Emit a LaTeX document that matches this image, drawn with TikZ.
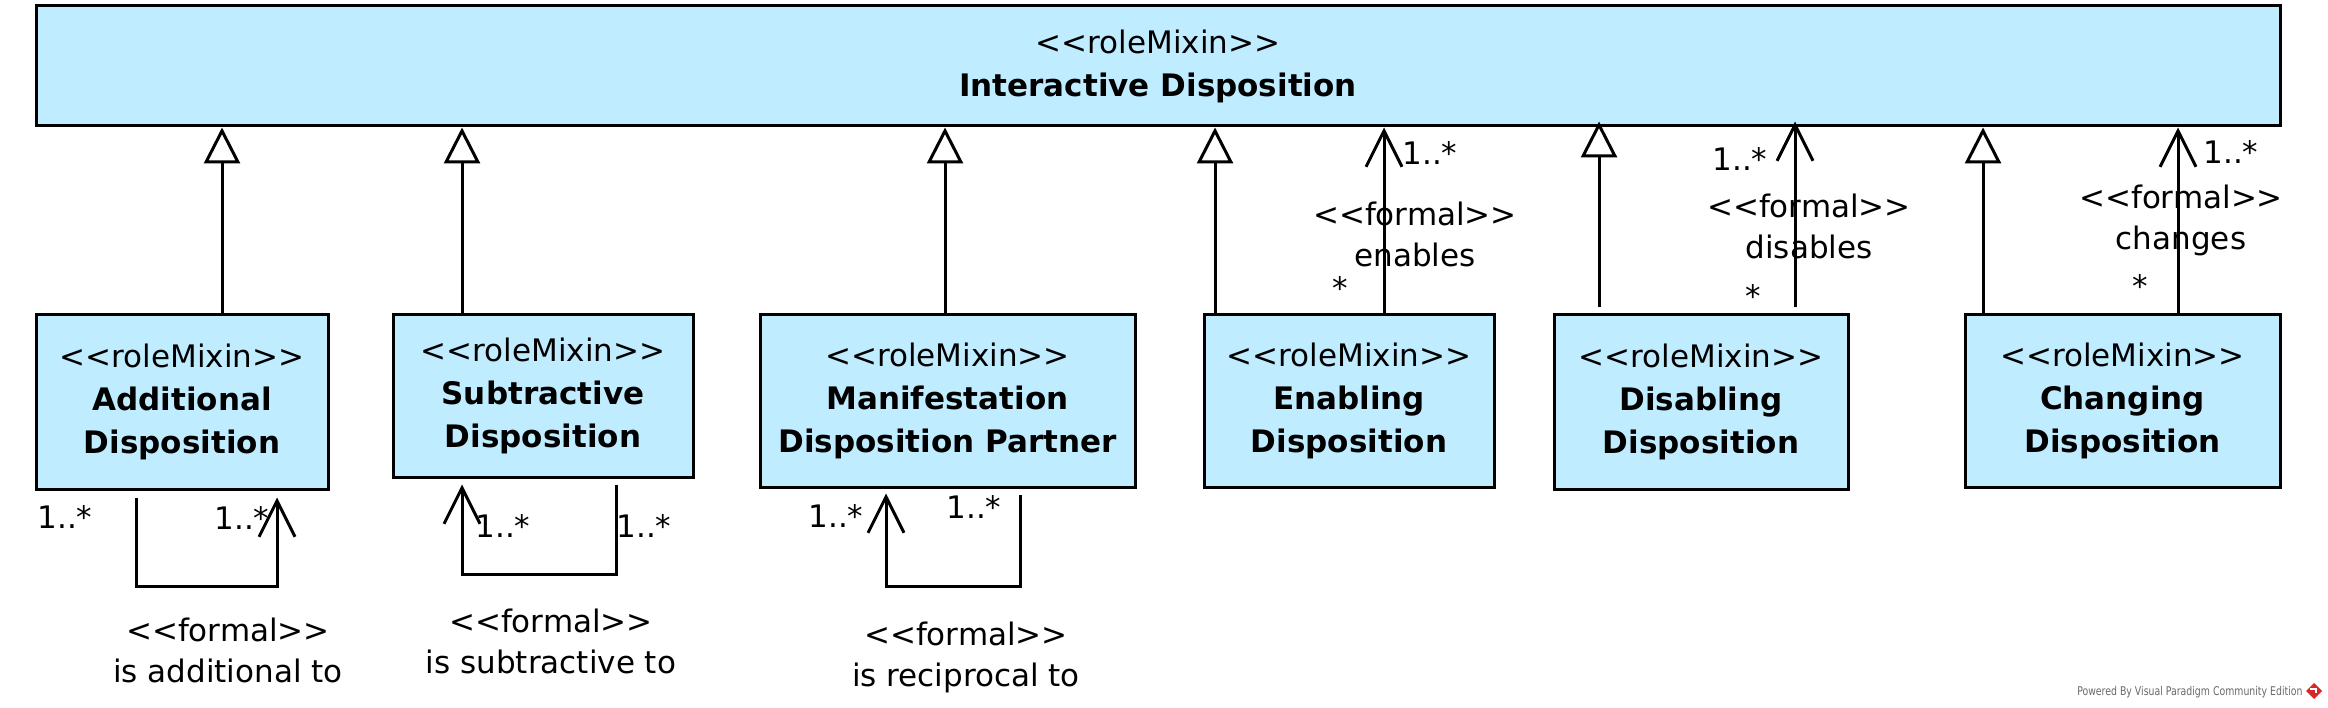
\documentclass[tikz,border=0pt]{standalone}
\usepackage{fontspec}
\setmainfont{DejaVu Sans}
\newfontfamily\vpfont{DejaVu Sans}[FakeStretch=0.78]
\usetikzlibrary{arrows.meta,calc}
\definecolor{boxblue}{RGB}{192,236,255}
\definecolor{vpgrey}{RGB}{105,105,105}
\definecolor{vpred}{RGB}{214,40,40}
\begin{document}
\begin{tikzpicture}[x=1pt,y=-1pt,line width=3pt,
  cls/.style={draw=black,fill=boxblue,line width=3pt,inner sep=0pt,align=center,
    font=\fontsize{31}{43}\selectfont},
  lbl/.style={inner sep=0pt,anchor=base,align=center,font=\fontsize{31}{41}\selectfont},
  gen/.style={-{Triangle[fill=white,length=36pt,width=36pt]}},
  assoc/.style={-{Straight Barb[length=36pt,width=36pt]}}]
\useasboundingbox (0,0) rectangle (2328,708);
\fill[white] (0,0) rectangle (2328,708);

% classes
\node[cls,minimum width=2244pt,minimum height=120pt] (top) at (1158,66)
  {<{}<roleMixin>{}>\\\textbf{Interactive Disposition}};
\node[cls,minimum width=292pt,minimum height=174pt] (add) at (182,402)
  {<{}<roleMixin>{}>\\\textbf{Additional}\\\textbf{Disposition}};
\node[cls,minimum width=300pt,minimum height=162pt] (sub) at (543,396)
  {<{}<roleMixin>{}>\\\textbf{Subtractive}\\\textbf{Disposition}};
\node[cls,minimum width=375pt,minimum height=172pt] (man) at (947.5,401)
  {<{}<roleMixin>{}>\\\textbf{Manifestation}\\\textbf{Disposition Partner}};
\node[cls,minimum width=290pt,minimum height=172pt] (ena) at (1349,401)
  {<{}<roleMixin>{}>\\\textbf{Enabling}\\\textbf{Disposition}};
\node[cls,minimum width=294pt,minimum height=174pt] (dis) at (1701,402)
  {<{}<roleMixin>{}>\\\textbf{Disabling}\\\textbf{Disposition}};
\node[cls,minimum width=315pt,minimum height=172pt] (cha) at (2122.5,401)
  {<{}<roleMixin>{}>\\\textbf{Changing}\\\textbf{Disposition}};

% x positions of connectors
\coordinate (g1) at (222,0);
\coordinate (g2) at (462,0);
\coordinate (g3) at (945,0);
\coordinate (g4) at (1215,0);
\coordinate (g5) at (1599,0);
\coordinate (g6) at (1983,0);
\coordinate (a4) at (1384,0);
\coordinate (a5) at (1795,0);
\coordinate (a6) at (2178,0);
\coordinate (l1a) at (136,0);
\coordinate (l1b) at (277,0);
\coordinate (l2a) at (616,0);
\coordinate (l2b) at (462,0);
\coordinate (l3a) at (1020,0);
\coordinate (l3b) at (886,0);

% generalizations
\draw[gen] (add.north -| g1) -- (top.south -| g1);
\draw[gen] (sub.north -| g2) -- (top.south -| g2);
\draw[gen] (man.north -| g3) -- (top.south -| g3);
\draw[gen] (ena.north -| g4) -- (top.south -| g4);
\draw[gen] ($(dis.north -| g5)+(0,-6)$) -- ($(top.south -| g5)+(0,-6)$);
\draw[gen] (cha.north -| g6) -- (top.south -| g6);

% associations to the top class
\draw[assoc] (ena.north -| a4) -- (top.south -| a4);
\draw[assoc] ($(dis.north -| a5)+(0,-6)$) -- ($(top.south -| a5)+(0,-6)$);
\draw[assoc] (cha.north -| a6) -- (top.south -| a6);

% self associations
\draw[assoc] ($(add.south -| l1a)+(0,7)$) |- ($(add.south -| l1b)+(0,96)$) -- ($(add.south -| l1b)+(0,7)$);
\draw[assoc] ($(sub.south -| l2a)+(0,6)$) |- ($(sub.south -| l2b)+(0,96)$) -- ($(sub.south -| l2b)+(0,6)$);
\draw[assoc] ($(man.south -| l3a)+(0,6)$) |- ($(man.south -| l3b)+(0,98)$) -- ($(man.south -| l3b)+(0,5)$);

% labels (multi-line labels are anchored at the baseline of their last line)
% additional
\node[lbl] (m1a) at (65,528) {1..*};
\node[lbl] (m1b) at (242,529) {1..*};
\node[lbl] (n1) at (228,682) {<{}<formal>{}>\\is additional to};
% subtractive
\node[lbl] (m2a) at (503,537) {1..*};
\node[lbl] (m2b) at (644,537) {1..*};
\node[lbl] (n2) at (551,673) {<{}<formal>{}>\\is subtractive to};
% reciprocal
\node[lbl] (m3a) at (836,527) {1..*};
\node[lbl] (m3b) at (974,518) {1..*};
\node[lbl] (n3) at (966,686) {<{}<formal>{}>\\is reciprocal to};
% enables
\node[lbl] (m4a) at (1430,165) {1..*};
\node[lbl] (m4b) at (1340,300) {*};
\node[lbl] (n4) at (1415,267) {<{}<formal>{}>\\enables};
% disables
\node[lbl] (m5a) at (1740,171) {1..*};
\node[lbl] (m5b) at (1753,308) {*};
\node[lbl] (n5) at (1809,259) {<{}<formal>{}>\\disables};
% changes
\node[lbl] (m6a) at (2231,164) {1..*};
\node[lbl] (m6b) at (2140,298) {*};
\node[lbl] (n6) at (2181,250) {<{}<formal>{}>\\changes};

% footer
\node[inner sep=0pt,anchor=base east,text=vpgrey,font=\vpfont\fontsize{12}{14}\selectfont] (vp) at (2304,695)
  {Powered By Visual Paradigm Community Edition};
\fill[vpred] (2314,683) -- (2322,691) -- (2314,699) -- (2306,691) -- cycle;
\draw[white,line width=1.2pt] (2310,689) -- (2316,689) -- (2316,693);
\end{tikzpicture}
\end{document}
